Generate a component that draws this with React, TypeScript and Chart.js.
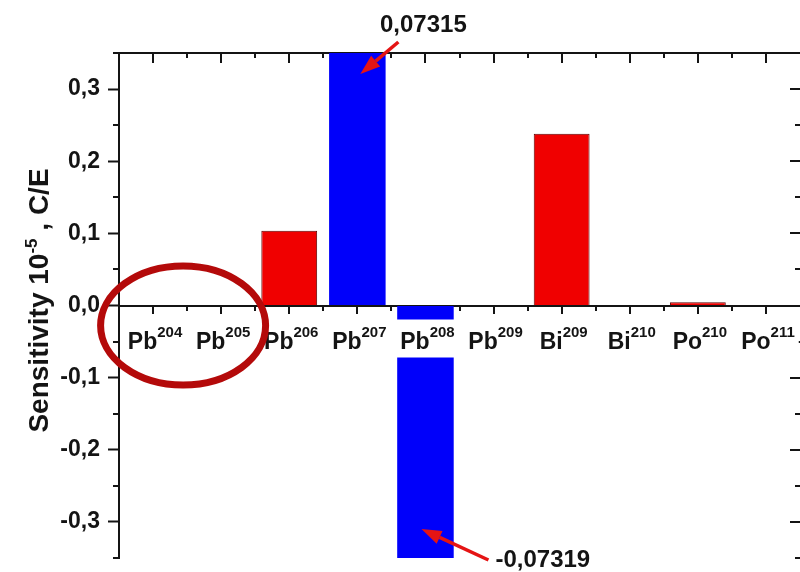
import React, { useEffect, useRef } from 'react';
import { Chart, registerables } from 'chart.js';

Chart.register(...registerables);

// ---- data ----
const elements = ['Pb', 'Pb', 'Pb', 'Pb', 'Pb', 'Pb', 'Bi', 'Bi', 'Po', 'Po'];
const massNumbers = ['204', '205', '206', '207', '208', '209', '209', '210', '210', '211'];
const categories = elements.map((e, i) => e + massNumbers[i]);
const redValues: (number | null)[] = [0, 0, 0.1035, null, null, 0, 0.238, 0, 0.0045, 0];
const blueValues: (number | null)[] = [null, null, null, 0.35, -0.35, null, null, null, null, null];
const yMajorTicks = [-0.3, -0.2, -0.1, 0, 0.1, 0.2, 0.3];
const yMinorTicks = [-0.35, -0.25, -0.15, -0.05, 0.05, 0.15, 0.25, 0.35];
const calloutValues = [0.07315, -0.07319];
const calloutCategories = [3, 4];
const circledCategories = [0, 1];

const FONT = '"Liberation Sans", Arial, Helvetica, sans-serif';
const INK = '#141414';
const fmt = (v: number, d: number) => v.toFixed(d).replace('.', ',');

const framePlugin = {
  id: 'frame',
  beforeDatasetsDraw(chart: any) {
    const { ctx, chartArea: a, scales } = chart;
    const x = scales.x, y = scales.y;
    const y0 = Math.round(y.getPixelForValue(0));
    const n = categories.length;
    const step = (a.right - a.left) / n;
    ctx.save();
    ctx.strokeStyle = INK;
    ctx.lineWidth = 2;
    ctx.beginPath();
    ctx.moveTo(a.left, y0); ctx.lineTo(a.right, y0);
    ctx.moveTo(a.left, a.top); ctx.lineTo(a.right, a.top);
    for (let i = 0; i < n; i++) {
      const cx = Math.round(x.getPixelForValue(i));
      ctx.moveTo(cx, y0); ctx.lineTo(cx, y0 + 8);
      ctx.moveTo(cx, a.top); ctx.lineTo(cx, a.top + 10);
      if (i > 0) {
        const bx = Math.round(a.left + i * step);
        ctx.moveTo(bx, y0); ctx.lineTo(bx, y0 + 5);
        ctx.moveTo(bx, a.top); ctx.lineTo(bx, a.top + 5);
      }
    }
    for (const v of yMajorTicks) {
      const py = Math.round(y.getPixelForValue(v));
      ctx.moveTo(a.right - 10, py); ctx.lineTo(a.right, py);
    }
    for (const v of yMinorTicks) {
      const py = Math.round(y.getPixelForValue(v));
      ctx.moveTo(a.right - 5, py); ctx.lineTo(a.right, py);
      ctx.moveTo(a.left - 6, py); ctx.lineTo(a.left, py);
    }
    ctx.stroke();
    ctx.restore();
  },
  afterDatasetsDraw(chart: any) {
    const { ctx, chartArea: a, scales } = chart;
    const x = scales.x, y = scales.y;
    const y0 = y.getPixelForValue(0);
    ctx.save();
    const mainFont = `bold 23px ${FONT}`;
    const supFont = `bold 15px ${FONT}`;
    for (let i = 0; i < categories.length; i++) {
      const cx = x.getPixelForValue(i);
      ctx.font = mainFont;
      const w1 = ctx.measureText(elements[i]).width;
      ctx.font = supFont;
      const w2 = ctx.measureText(massNumbers[i]).width;
      const total = w1 + w2;
      const sx = cx - total / 2 + 2;
      const base = y0 + 43;
      ctx.fillStyle = '#ffffff';
      ctx.fillRect(sx - 4, y0 + 14, total + 8, 38);
      ctx.fillStyle = INK;
      ctx.textAlign = 'left';
      ctx.textBaseline = 'alphabetic';
      ctx.font = mainFont;
      ctx.fillText(elements[i], sx, base);
      ctx.font = supFont;
      ctx.fillText(massNumbers[i], sx + w1, base - 12);
    }

    ctx.save();
    const tMain = `bold 28px ${FONT}`;
    const tSup = `bold 17px ${FONT}`;
    const p1 = 'Sensitivity 10', p2 = '-5', p3 = ' , C/E';
    ctx.font = tMain; const a1 = ctx.measureText(p1).width; const a3 = ctx.measureText(p3).width;
    ctx.font = tSup; const a2 = ctx.measureText(p2).width;
    const tw = a1 + a2 + a3;
    ctx.translate(48, (a.top + a.bottom) / 2 - 5);
    ctx.rotate(-Math.PI / 2);
    ctx.fillStyle = INK;
    ctx.textAlign = 'left';
    ctx.font = tMain; ctx.fillText(p1, -tw / 2, 0);
    ctx.font = tSup; ctx.fillText(p2, -tw / 2 + a1, -11);
    ctx.font = tMain; ctx.fillText(p3, -tw / 2 + a1 + a2, 0);
    ctx.restore();

    const arrow = (x1: number, y1: number, x2: number, y2: number) => {
      const ang = Math.atan2(y2 - y1, x2 - x1);
      const hl = 20, hw = 7;
      const bx = x2 - hl * Math.cos(ang), by = y2 - hl * Math.sin(ang);
      ctx.strokeStyle = '#e51414';
      ctx.fillStyle = '#e51414';
      ctx.lineWidth = 3.5;
      ctx.beginPath(); ctx.moveTo(x1, y1); ctx.lineTo(bx, by); ctx.stroke();
      ctx.beginPath();
      ctx.moveTo(x2, y2);
      ctx.lineTo(bx + hw * Math.sin(ang), by - hw * Math.cos(ang));
      ctx.lineTo(bx - hw * Math.sin(ang), by + hw * Math.cos(ang));
      ctx.closePath(); ctx.fill();
    };
    {
      const cx = x.getPixelForValue(calloutCategories[0]);
      ctx.font = `bold 24px ${FONT}`;
      ctx.fillStyle = INK; ctx.textAlign = 'center';
      ctx.fillText(fmt(calloutValues[0], 5), cx + 66, a.top - 21);
      arrow(cx + 41, a.top - 11, cx + 3, a.top + 21);
    }
    {
      const cx = x.getPixelForValue(calloutCategories[1]);
      ctx.font = `bold 24px ${FONT}`;
      ctx.fillStyle = INK; ctx.textAlign = 'left';
      ctx.fillText(fmt(calloutValues[1], 5), cx + 70, a.bottom + 9);
      arrow(cx + 63, a.bottom + 2, cx - 4, a.bottom - 29);
    }

    const ex = (x.getPixelForValue(circledCategories[0]) + x.getPixelForValue(circledCategories[1])) / 2 - 4;
    ctx.strokeStyle = '#b40a0a';
    ctx.lineWidth = 7;
    ctx.beginPath();
    ctx.ellipse(ex, y0 + 20, 82.5, 59.5, 0, 0, Math.PI * 2);
    ctx.stroke();
    ctx.restore();
  },
};

export default function App() {
  const ref = useRef<HTMLCanvasElement | null>(null);
  useEffect(() => {
    if (!ref.current) return;
    const chart = new Chart(ref.current, {
      type: 'bar',
      data: {
        labels: categories,
        datasets: [
          {
            label: 'positive',
            data: redValues,
            backgroundColor: '#f00000',
            borderColor: '#5a0000',
            borderWidth: 1,
            grouped: false,
            barPercentage: 0.82,
            categoryPercentage: 1,
          } as any,
          {
            label: 'scaled',
            data: blueValues,
            backgroundColor: '#0000fa',
            borderWidth: 0,
            grouped: false,
            barPercentage: 0.83,
            categoryPercentage: 1,
          } as any,
        ],
      },
      options: {
        responsive: false,
        animation: false,
        devicePixelRatio: 1,
        layout: { padding: { top: 53, bottom: 14, left: 0, right: 0 } },
        plugins: { legend: { display: false }, tooltip: { enabled: false }, title: { display: false } },
        scales: {
          x: { type: 'category', display: false, offset: true, grid: { display: false } },
          y: {
            min: -0.35,
            max: 0.35,
            afterBuildTicks: (s: any) => { s.ticks = yMajorTicks.map((v) => ({ value: v })); },
            afterFit: (s: any) => { s.width = 119; s.paddingTop = 0; s.paddingBottom = 0; },
            ticks: {
              callback: (v: any) => fmt(Number(v), 1),
              font: { family: FONT, size: 23, weight: 'bold' },
              color: INK,
              padding: 8,
            },
            grid: { drawOnChartArea: false, drawTicks: true, tickLength: 11, tickWidth: 2, tickColor: INK },
            border: { display: true, color: INK, width: 2 },
          },
        },
      } as any,
      plugins: [framePlugin],
    });
    return () => chart.destroy();
  }, []);
  return (
    <div style={{ position: 'absolute', left: 0, top: 0, width: 800, height: 572, background: '#fff' }}>
      <canvas ref={ref} width={800} height={572} />
    </div>
  );
}
